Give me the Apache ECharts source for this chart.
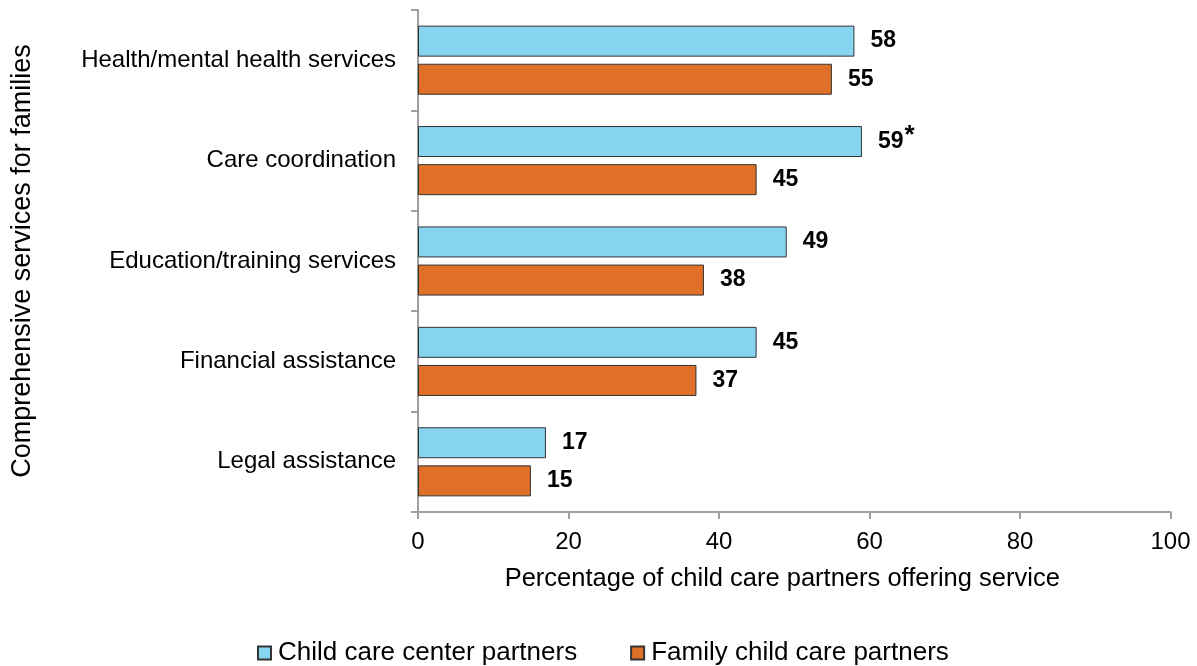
<!DOCTYPE html>
<html><head><meta charset="utf-8">
<script src="https://cdn.jsdelivr.net/npm/echarts@6/dist/echarts.min.js"></script>
<style>html,body{margin:0;padding:0;background:#fff}#c{width:1197px;height:666px}</style>
</head><body><div id="c"></div>
<script>
const categories = ["Health/mental health services","Care coordination","Education/training services","Financial assistance","Legal assistance"];
const centerValues = [58, 59, 49, 45, 17];
const familyValues = [55, 45, 38, 37, 15];
const centerNotes = ["", "*", "", "", ""];
const xTicks = [0, 20, 40, 60, 80, 100];
const seriesNames = ["Child care center partners", "Family child care partners"];

const font = "'Liberation Sans', Arial, sans-serif";
const chart = echarts.init(document.getElementById('c'));
const labelStyle = {show: true, position: 'right', distance: 16, color: '#000', fontFamily: font, fontSize: 23, fontWeight: 'bold'};
chart.setOption({
  animation: false,
  grid: {left: 418, right: 1197 - 1170.5, top: 10, bottom: 666 - 512, containLabel: false},
  legend: {
    top: 635, left: 252, itemGap: 53, itemWidth: 13, itemHeight: 13,
    icon: 'rect',
    textStyle: {fontFamily: font, fontSize: 26, color: '#000', padding: [0,0,0,2]},
    data: seriesNames
  },
  xAxis: {
    type: 'value', min: xTicks[0], max: xTicks[xTicks.length-1], interval: 20,
    name: 'Percentage of child care partners offering service', nameLocation: 'middle', nameGap: 54,
    nameTextStyle: {fontFamily: font, fontSize: 25.5, color: '#000', padding: [0, 24, 0, 0]},
    axisLine: {show: true, lineStyle: {color: '#a0a0a0', width: 2}},
    axisTick: {show: true, length: 7, lineStyle: {color: '#a0a0a0', width: 2}},
    axisLabel: {fontFamily: font, fontSize: 24, color: '#000', margin: 18},
    splitLine: {show: false}
  },
  yAxis: {
    type: 'category', inverse: true, data: categories,
    name: 'Comprehensive services for families', nameLocation: 'middle', nameGap: 382, nameRotate: 90,
    nameTextStyle: {fontFamily: font, fontSize: 27, color: '#000'},
    axisLine: {show: true, lineStyle: {color: '#a0a0a0', width: 2}},
    axisTick: {show: true, length: 7, alignWithLabel: false, lineStyle: {color: '#a0a0a0', width: 2}},
    axisLabel: {fontFamily: font, fontSize: 24, color: '#000', margin: 22}
  },
  series: [
    {
      name: seriesNames[0], type: 'bar', data: centerValues, barWidth: 31, barGap: '23%',
      itemStyle: {color: '#87D4F0', borderColor: '#333', borderWidth: 1},
      label: Object.assign({}, labelStyle, {
        formatter: p => centerNotes[p.dataIndex] ? '{v|' + p.value + '}{s|' + centerNotes[p.dataIndex] + '}' : '{v|' + p.value + '}',
        rich: {v: {fontFamily: font, fontSize: 23, fontWeight: 'bold', color: '#000'},
               s: {fontFamily: font, fontSize: 26, fontWeight: 'bold', color: '#000', verticalAlign: 'top', padding: [0,0,12,1]}}
      })
    },
    {
      name: seriesNames[1], type: 'bar', data: familyValues, barWidth: 31,
      itemStyle: {color: '#E07027', borderColor: '#333', borderWidth: 1},
      label: Object.assign({}, labelStyle)
    }
  ]
});
</script></body></html>
